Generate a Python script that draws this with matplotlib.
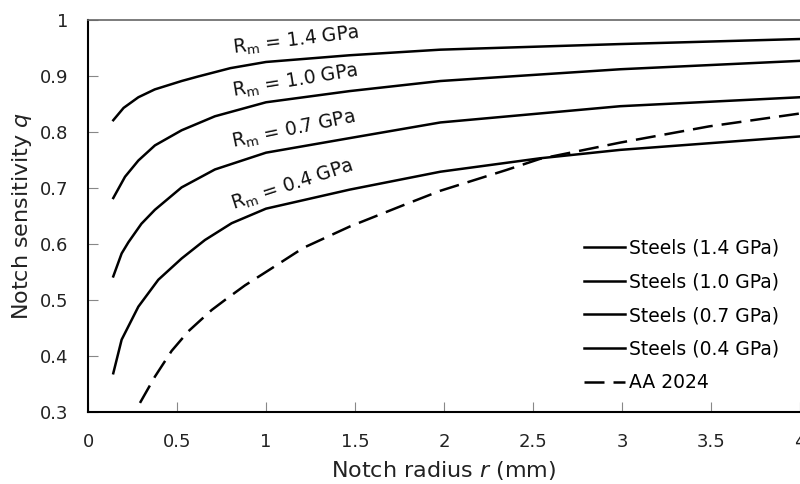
import matplotlib
matplotlib.use('Agg')
import matplotlib.pyplot as plt

plt.rcParams['font.family'] = 'DejaVu Sans'
plt.rcParams['mathtext.fontset'] = 'dejavusans'

# values (notch radius r in mm, notch sensitivity q)
r_14 = [0.142, 0.2, 0.283, 0.375, 0.526, 0.618, 0.8, 1.0, 1.47, 1.98, 2.99, 4.0]
q_14 = [0.821, 0.843, 0.862, 0.876, 0.891, 0.899, 0.914, 0.925, 0.937, 0.947,
        0.957, 0.966]

r_10 = [0.142, 0.208, 0.283, 0.376, 0.526, 0.713, 1.0, 1.47, 1.98, 2.99, 4.0]
q_10 = [0.682, 0.720, 0.749, 0.776, 0.803, 0.828, 0.853, 0.873, 0.891, 0.912, 0.927]

r_07 = [0.142, 0.189, 0.227, 0.300, 0.376, 0.526, 0.713, 1.0, 1.47, 1.98, 2.99, 4.0]
q_07 = [0.542, 0.583, 0.603, 0.636, 0.661, 0.701, 0.733, 0.763, 0.789, 0.817,
        0.846, 0.862]

r_04 = [0.142, 0.189, 0.283, 0.395, 0.526, 0.657, 0.807, 1.0, 1.47, 1.98, 2.54,
        2.99, 4.0]
q_04 = [0.369, 0.429, 0.488, 0.536, 0.574, 0.607, 0.637, 0.663, 0.697, 0.729,
        0.753, 0.768, 0.792]

r_aa = [0.292, 0.376, 0.47, 0.564, 0.695, 0.77, 0.882, 1.02, 1.21, 1.47, 1.77,
        1.98, 2.35, 2.54, 2.99, 3.49, 4.0]
q_aa = [0.316, 0.363, 0.409, 0.444, 0.482, 0.500, 0.526, 0.554, 0.593, 0.631,
        0.669, 0.695, 0.732, 0.752, 0.781, 0.810, 0.833]

labels = ['Steels (1.4 GPa)', 'Steels (1.0 GPa)', 'Steels (0.7 GPa)',
          'Steels (0.4 GPa)', 'AA 2024']
rm_labels = ['1.4', '1.0', '0.7', '0.4']

fig = plt.figure(figsize=(8, 4.84), dpi=100)
ax = fig.add_axes([0.11, 0.149, 0.89, 0.8097])

lw = 1.8
ax.plot(r_14, q_14, color='black', lw=lw, solid_joinstyle='round', label=labels[0])
ax.plot(r_10, q_10, color='black', lw=lw, solid_joinstyle='round', label=labels[1])
ax.plot(r_07, q_07, color='black', lw=lw, solid_joinstyle='round', label=labels[2])
ax.plot(r_04, q_04, color='black', lw=lw, solid_joinstyle='round', label=labels[3])
ax.plot(r_aa, q_aa, color='black', lw=lw, linestyle=(0, (8, 3.6)), label=labels[4])

# curve labels
for (x, y, rot), v in zip([(0.815, 0.9405, 7), (0.815, 0.863, 9.3),
                           (0.815, 0.771, 11.7), (0.815, 0.661, 18)], rm_labels):
    ax.text(x, y, 'R$_\\mathrm{m}$ = ' + v + ' GPa', fontsize=13.5, rotation=rot,
            ha='left', va='baseline', rotation_mode='anchor', color='#111111')

ax.set_xlim(0, 4)
ax.set_ylim(0.3, 1)
ax.set_xticks([0, 0.5, 1, 1.5, 2, 2.5, 3, 3.5, 4])
ax.set_xticklabels(['0', '0.5', '1', '1.5', '2', '2.5', '3', '3.5', '4'])
ax.set_yticks([0.3, 0.4, 0.5, 0.6, 0.7, 0.8, 0.9, 1])
ax.set_yticklabels(['0.3', '0.4', '0.5', '0.6', '0.7', '0.8', '0.9', '1'])
ax.tick_params(direction='in', length=7, color='#888888', labelsize=13,
               labelcolor='#222222')
ax.tick_params(axis='x', pad=15)
ax.tick_params(axis='y', pad=14)

ax.spines['left'].set_linewidth(1.5)
ax.spines['bottom'].set_linewidth(1.5)
ax.spines['top'].set_color('#666666')
ax.spines['top'].set_linewidth(1.2)
ax.spines['right'].set_visible(False)

ax.set_xlabel('Notch radius $\\mathit{r}$ (mm)', fontsize=16, color='#222222',
              labelpad=6)
ax.set_ylabel('Notch sensitivity $\\mathit{q}$', fontsize=16, color='#222222',
              labelpad=4)

ax.legend(loc='lower right', bbox_to_anchor=(0.995, 0.007), frameon=False,
          fontsize=13.5, handlelength=2.15, handletextpad=0.25, labelspacing=0.78)

fig.savefig('out.png', dpi=100)
